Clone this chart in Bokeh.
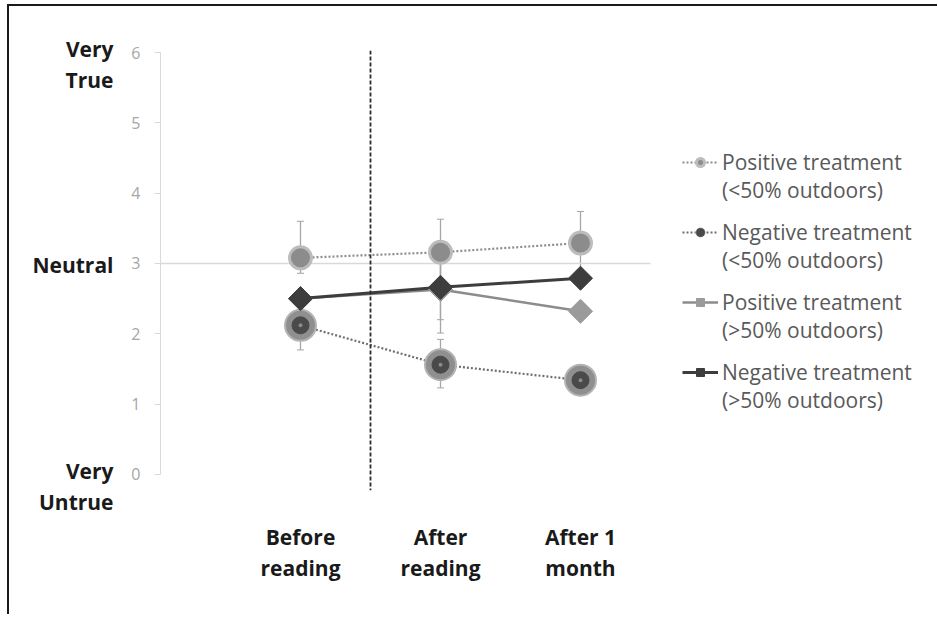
import math
from bokeh.plotting import figure
from bokeh.models import (Range1d, FixedTicker, Span, Legend, LegendItem, Whisker,
                          ColumnDataSource, LinearAxis)
from bokeh.embed import file_html
from bokeh.resources import INLINE

# ---- data ----
categories = ["Before\nreading", "After\nreading", "After 1\nmonth"]
y_ticks = [0, 1, 2, 3, 4, 5, 6]
y_word_labels = ["Very\nTrue", "Neutral", "Very\nUntrue"]
y_word_values = [6, 3, 0]
neutral = 3

pos_lo_mean = [3.08, 3.16, 3.29]
pos_lo_lower = [2.86, 2.69, 2.84]
pos_lo_upper = [3.60, 3.63, 3.74]

neg_lo_mean = [2.12, 1.56, 1.34]
neg_lo_lower = [1.77, 1.23, 1.19]
neg_lo_upper = [2.47, 1.92, 1.49]

pos_hi_mean = [2.50, 2.63, 2.32]
pos_hi_lower = [2.40, 2.01, 2.22]
pos_hi_upper = [2.60, 3.25, 2.42]

neg_hi_mean = [2.50, 2.66, 2.79]
neg_hi_lower = [2.40, 2.20, 2.69]
neg_hi_upper = [2.60, 3.12, 2.89]

labels = ["Positive treatment\n(<50% outdoors)", "Negative treatment\n(<50% outdoors)",
          "Positive treatment\n(>50% outdoors)", "Negative treatment\n(>50% outdoors)"]

xs = list(range(len(categories)))

FRAME_W, FRAME_H = 777, 440
PX_PER_X = 140
Y0, Y1 = -0.23, 6.03
px_per_unit = FRAME_H / (Y1 - Y0)
X0 = -1.0

p = figure(frame_width=FRAME_W, frame_height=FRAME_H, output_backend="svg", toolbar_location=None,
           x_range=Range1d(X0, X0 + FRAME_W / PX_PER_X), y_range=Range1d(Y0, Y1),
           min_border_left=151, min_border_right=0, min_border_top=44, min_border_bottom=124)
p.outline_line_color = None
p.background_fill_color = "white"
p.border_fill_color = "white"
p.margin = (4, 0, 0, 7)
p.styles = {"border-left": "2px solid #1a1a1a", "border-top": "2px solid #1a1a1a"}

p.xgrid.visible = False
p.ygrid.visible = False

# neutral reference line across the plot area
p.segment(x0=[X0], x1=[len(categories) - 0.5], y0=[neutral], y1=[neutral],
          line_color="#d9d9d9", line_width=1.5)

# y axis
p.yaxis.ticker = FixedTicker(ticks=y_ticks)
p.yaxis.bounds = (0, 6)
p.yaxis.axis_line_color = "#d9d9d9"
p.yaxis.major_tick_line_color = "#d9d9d9"
p.yaxis.major_tick_out = 6
p.yaxis.major_tick_in = 0
p.yaxis.minor_tick_line_color = None
p.yaxis.major_label_text_font = "Open Sans"
p.yaxis.major_label_text_font_size = "16px"
p.yaxis.major_label_text_color = "#a6a6a6"
p.yaxis.major_label_standoff = 14

# word labels axis (further left)
word_offsets_px = [12, 2, 12]
word_ticks = [v - o / px_per_unit for v, o in zip(y_word_values, word_offsets_px)]
wax = LinearAxis(ticker=FixedTicker(ticks=word_ticks),
                 major_label_overrides={t: l for t, l in zip(word_ticks, y_word_labels)})
wax.axis_line_color = None
wax.major_tick_line_color = None
wax.minor_tick_line_color = None
wax.major_tick_out = 0
wax.major_tick_in = 0
wax.major_label_standoff = 15
wax.major_label_text_font = "Open Sans"
wax.major_label_text_font_style = "bold"
wax.major_label_text_font_size = "21px"
wax.major_label_text_color = "#1a1a1a"
wax.major_label_text_line_height = 1.12
p.add_layout(wax, "left")

# x axis
p.xaxis.ticker = FixedTicker(ticks=xs)
p.xaxis.major_label_overrides = {x: c for x, c in zip(xs, categories)}
p.xaxis.axis_line_color = None
p.xaxis.major_tick_line_color = None
p.xaxis.minor_tick_line_color = None
p.xaxis.major_label_text_font = "Open Sans"
p.xaxis.major_label_text_font_style = "bold"
p.xaxis.major_label_text_font_size = "21px"
p.xaxis.major_label_text_color = "#1a1a1a"
p.xaxis.major_label_text_line_height = 1.12
p.xaxis.major_label_standoff = 26

# dashed divider between before/after
p.add_layout(Span(location=xs[0] + 0.5, dimension="height", line_color="#2b2b2b",
                  line_width=1.8, line_dash="4 2"))

# error bars
for lo, up in [(pos_lo_lower, pos_lo_upper), (neg_lo_lower, neg_lo_upper),
               (pos_hi_lower, pos_hi_upper), (neg_hi_lower, neg_hi_upper)]:
    src = ColumnDataSource(dict(x=xs, lower=lo, upper=up))
    w = Whisker(base="x", lower="lower", upper="upper", source=src,
                line_color="#a6a6a6", line_width=1.3)
    w.upper_head.size = 7
    w.lower_head.size = 7
    w.upper_head.line_color = "#a6a6a6"
    w.lower_head.line_color = "#a6a6a6"
    p.add_layout(w)

# lines
l1 = p.line(xs, pos_lo_mean, line_color="#8c8c8c", line_width=2.2, line_dash="2 2")
l2 = p.line(xs, neg_lo_mean, line_color="#6e6e6e", line_width=2.2, line_dash="2 2")
l3 = p.line(xs, pos_hi_mean, line_color="#8c8c8c", line_width=2.5)
l4 = p.line(xs, neg_hi_mean, line_color="#3d3d3d", line_width=3)

# markers
m1 = p.scatter(xs, pos_lo_mean, marker="circle", size=22, fill_color="#8c8c8c",
               line_color="#bcbcbc", line_width=3)
m2a = p.scatter(xs, neg_lo_mean, marker="circle", size=31, fill_color="#8f8f8f",
                line_color="#b3b3b3", line_width=2)
m2b = p.scatter(xs, neg_lo_mean, marker="circle", size=17, fill_color="#4a4a4a",
                line_color="#4a4a4a", line_width=1)
m2c = p.scatter(xs, neg_lo_mean, marker="circle", size=4, fill_color="#8a8a8a",
                line_color=None)
m3 = p.scatter(xs, pos_hi_mean, marker="square", angle=math.pi / 4, size=17,
               fill_color="#9b9b9b", line_color="#9b9b9b", line_width=1)
m4 = p.scatter(xs, neg_hi_mean, marker="square", angle=math.pi / 4, size=17,
               fill_color="#3d3d3d", line_color="#3d3d3d", line_width=1)

# legend: one block per series so the marker sits on the first text line
renderer_sets = [[l1, m1], [l2, m2a, m2b], [l3, m3], [l4, m4]]
LEG_FONT = 21
LINE_PX = 28
first_line_px = 112        # first text line below the plot-area top
entry_pitch = 70
for i, (lab, rs) in enumerate(zip(labels, renderer_sets)):
    item_top = first_line_px + i * entry_pitch - 1.5 * LINE_PX
    item_bottom = item_top + 3 * LINE_PX
    leg = Legend(items=[LegendItem(label="\n" + lab, renderers=rs)],
                 location=(522, int(round(FRAME_H - item_bottom))),
                 border_line_color=None, background_fill_alpha=0,
                 label_text_font="Open Sans", label_text_font_size=f"{LEG_FONT}px",
                 label_text_color="#595959", label_text_line_height=LINE_PX / LEG_FONT,
                 glyph_width=36, glyph_height=20, label_standoff=4,
                 spacing=0, padding=0, margin=0)
    p.add_layout(leg)

open("out.html", "w").write(file_html(p, INLINE))
